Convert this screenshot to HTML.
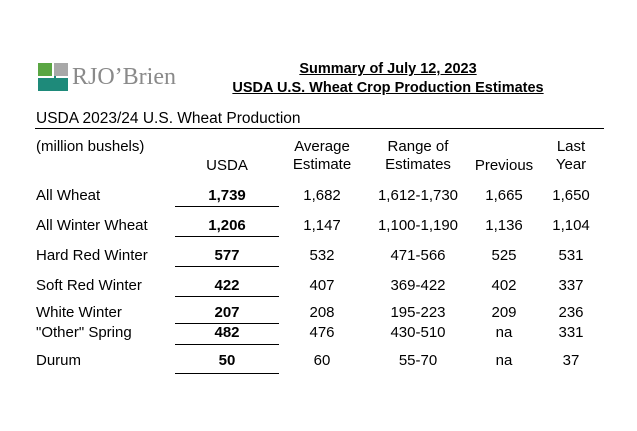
<!DOCTYPE html>
<html><head><meta charset="utf-8"><style>
body{margin:0;width:637px;height:431px;background:#fff;position:relative;overflow:hidden;font-family:"Liberation Sans",Arial,sans-serif;color:#000}
.t{position:absolute;font-size:15px;line-height:18px;white-space:nowrap}
.c{transform:translateX(-50%)}
.b{font-weight:bold}
.u{position:absolute;left:175px;width:104px;height:1px;background:#000}
</style></head><body>
<div style="position:absolute;left:38px;top:63px;width:140px;height:30px">
<svg width="34" height="28" style="position:absolute;left:0;top:0">
<rect x="0" y="0" width="14" height="13" fill="#5aa643"/>
<polygon points="0,28 0,15 16,15 16,0 18,0 18,15 30,15 30,28" fill="#1e8a7a"/>
<rect x="16" y="0" width="14" height="13" fill="#a8a8a8"/>
</svg>
<div style="position:absolute;left:34px;top:0px;font-family:'Liberation Serif',serif;font-size:24px;color:#8a8a8a;line-height:28px">RJO’Brien</div>
</div>
<div class="t b c" style="left:388px;top:60px;font-size:14.5px;text-decoration:underline">Summary of July 12, 2023</div>
<div class="t b c" style="left:388px;top:79px;font-size:14.5px;text-decoration:underline">USDA U.S. Wheat Crop Production Estimates</div>
<div class="t" style="left:36px;top:110px;font-size:15.5px">USDA 2023/24 U.S. Wheat Production</div>
<div style="position:absolute;left:35px;top:128px;width:569px;height:1px;background:#000"></div>
<div class="t" style="left:36px;top:138px">(million bushels)</div>
<div class="t c" style="left:227px;top:157px">USDA</div>
<div class="t c" style="left:322px;top:138px;text-align:center">Average<br>Estimate</div>
<div class="t c" style="left:418px;top:138px;text-align:center">Range of<br>Estimates</div>
<div class="t c" style="left:504px;top:157px">Previous</div>
<div class="t c" style="left:571px;top:138px;text-align:center">Last<br>Year</div>
<div id="rows"></div>
<script>
const labels=["All Wheat","All Winter Wheat","Hard Red Winter","Soft Red Winter","White Winter","\"Other\" Spring","Durum"];
const usda=["1,739","1,206","577","422","207","482","50"];
const avg=["1,682","1,147","532","407","208","476","60"];
const range=["1,612-1,730","1,100-1,190","471-566","369-422","195-223","430-510","55-70"];
const prev=["1,665","1,136","525","402","209","na","na"];
const last=["1,650","1,104","531","337","236","331","37"];
const ys=[196,226,256,286,313,333,361];
const uy=[206,236,266,296,323,344,373];
const cont=document.getElementById('rows');
function mk(txt,x,y,cls,name){const d=document.createElement('div');d.className='t '+cls;d.textContent=txt;d.style.left=x+'px';d.style.top=(y-9)+'px';


cont.appendChild(d);}
labels.forEach((l,i)=>{
mk(l,36,ys[i],'','row-label');
mk(usda[i],227,ys[i],'b c','usda-value');
mk(avg[i],322,ys[i],'c','average-value');
mk(range[i],418,ys[i],'c','range-value');
mk(prev[i],504,ys[i],'c','previous-value');
mk(last[i],571,ys[i],'c','last-year-value');
const u=document.createElement('div');u.className='u';u.style.top=uy[i]+'px';


cont.appendChild(u);
});
</script>
</body></html>
